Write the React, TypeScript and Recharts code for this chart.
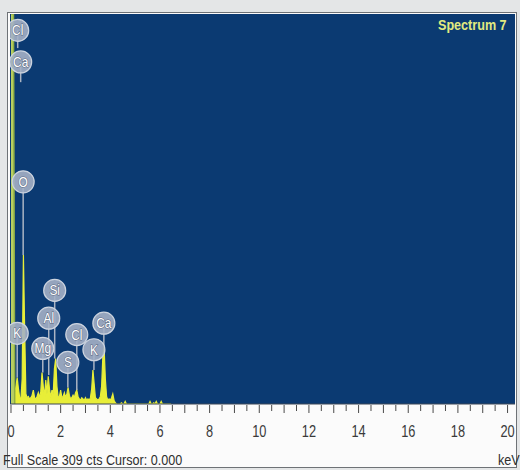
import React from 'react';
import { ComposedChart, Area, Scatter, XAxis, YAxis, CartesianGrid, ReferenceLine } from 'recharts';

// EDS spectrum, one value per 0.05 keV channel starting at 0 keV
const CHANNEL_KEV = 0.05;
const counts = [
  3, 3, 4, 8, 14, 21, 12, 5, 4, 20,
  118, 60, 8, 5, 6, 4, 5, 7, 11, 5,
  4, 6, 9, 5, 10, 25, 14, 6, 19, 8,
  22, 12, 5, 11, 8, 28, 36, 14, 5, 6,
  11, 5, 6, 9, 5, 8, 13, 7, 4, 5,
  7, 5, 9, 11, 6, 4, 3, 5, 4, 3,
  5, 3, 4, 3, 5, 12, 27, 16, 5, 4,
  3, 4, 6, 14, 38, 45, 20, 6, 3, 4,
  3, 5, 8, 3, 1, 0, 0, 0, 0, 1,
  0, 0, 2, 0, 0, 0, 0, 0, 0, 0,
  0, 0, 0, 0, 0, 0, 0, 0, 0, 0,
  0, 0, 2, 0, 0, 1, 0, 2, 0, 0,
  0, 2, 0, 0, 0, 0, 0, 0, 0, 0,
];
// zero-energy noise peak (off scale), first channels only
const noisePeak = [309, 309, 309, 0];

const elementNames = ['Cl', 'Ca', 'O', 'K', 'Mg', 'Al', 'Si', 'S', 'Cl', 'K', 'Ca'];
const elementKev = [0.27, 0.39, 0.49, 0.25, 1.28, 1.52, 1.76, 2.29, 2.65, 3.34, 3.74];
const tagCounts = [296, 271, 176, 56, 44, 68, 90, 33, 55, 43, 64];
const pinCounts = [282, 255, 118, 21, 25, 23, 36, 13, 11, 27, 45];

const kevTicks = [
  0, 0.5, 1, 1.5, 2, 2.5, 3, 3.5, 4, 4.5, 5, 5.5, 6, 6.5, 7, 7.5, 8, 8.5, 9, 9.5, 10,
  10.5, 11, 11.5, 12, 12.5, 13, 13.5, 14, 14.5, 15, 15.5, 16, 16.5, 17, 17.5, 18, 18.5, 19, 19.5, 20,
];
const labelledTicks = [0, 2, 4, 6, 8, 10, 12, 14, 16, 18, 20];

const FULL_SCALE = 309;

const spectrum = counts.map((c, i) => ({
  kev: +(i * CHANNEL_KEV).toFixed(2),
  counts: c,
  noise: i < noisePeak.length ? noisePeak[i] : undefined,
}));

const tags = elementNames.map((name, i) => ({
  name,
  kev: elementKev[i],
  counts: tagCounts[i],
  pin: pinCounts[i],
}));

const FONT = "'Liberation Sans', Arial, sans-serif";
const narrow: React.CSSProperties = { transform: 'scaleX(0.84)', transformOrigin: 'left top' };

const KevTick = (props: any) => {
  const { x, y, payload } = props;
  const v = payload.value;
  const major = Number.isInteger(v);
  return (
    <g>
      <line x1={x} x2={x} y1={y + 1} y2={y + (major ? 9 : 7)} stroke="#4a4a4a" strokeWidth={1} />
      {labelledTicks.includes(v) && (
        <text
          transform={`translate(${x},${y + 33}) scale(0.8,1)`}
          textAnchor="middle"
          fontSize={16}
          fontFamily={FONT}
          fill="#3a3a3a"
        >
          {v}
        </text>
      )}
    </g>
  );
};

const ElementTag = (props: any) => {
  const { cx, cy, payload } = props;
  if (cx == null || cy == null) return null;
  return (
    <g>
      <circle cx={cx} cy={cy} r={11} fill="#a4b0c5" fillOpacity={0.9} stroke="#cdd4df" strokeWidth={1.2} />
      <text
        transform={`translate(${cx},${cy + 5}) scale(0.85,1)`}
        textAnchor="middle"
        fontSize={14}
        fontFamily={FONT}
        fill="#ffffff"
        stroke="#5a667d"
        strokeWidth={1.1}
        style={{ paintOrder: 'stroke' }}
      >
        {payload.name}
      </text>
    </g>
  );
};

const App: React.FC = () => {
  return (
    <div style={{ position: 'absolute', left: 0, top: 0, width: 520, height: 470, background: '#e4e6e7', overflow: 'hidden' }}>
      <div
        style={{
          position: 'absolute',
          left: 7,
          top: 12,
          width: 510,
          height: 456,
          background: '#fbfbfb',
          border: '1px solid #6e7276',
          boxSizing: 'border-box',
        }}
      />
      <div style={{ position: 'absolute', left: 0, top: 0 }}>
        <ComposedChart width={520} height={470} data={spectrum} margin={{ top: 14, right: 5, bottom: 16, left: 10 }}>
          <CartesianGrid horizontal={false} vertical={false} fill="#0b3a72" />
          <XAxis
            dataKey="kev"
            type="number"
            domain={[-0.04, 20.3]}
            allowDataOverflow
            ticks={kevTicks}
            interval={0}
            tick={<KevTick />}
            tickLine={false}
            tickSize={0}
            tickMargin={0}
            axisLine={{ stroke: '#3c4656', strokeWidth: 1 }}
            height={50}
          />
          <YAxis
            type="number"
            domain={[0, FULL_SCALE]}
            allowDataOverflow
            width={0}
            tick={false}
            tickLine={false}
            axisLine={false}
          />
          <Area
            type="linear"
            dataKey="counts"
            stroke="#e8ee38"
            strokeWidth={1.2}
            fill="#e8ee38"
            fillOpacity={1}
            isAnimationActive={false}
            dot={false}
            activeDot={false}
          />
          <Area
            type="linear"
            dataKey="noise"
            stroke="#8fae44"
            strokeWidth={1.5}
            fill="#b7cf62"
            fillOpacity={1}
            isAnimationActive={false}
            dot={false}
            activeDot={false}
          />
          {tags.map((t, i) => (
            <ReferenceLine
              key={`pin-${i}`}
              segment={[
                { x: t.kev, y: t.pin },
                { x: t.kev, y: t.counts },
              ]}
              stroke="#aab4c3"
              strokeWidth={1.5}
            />
          ))}
          <Scatter data={tags} dataKey="counts" shape={<ElementTag />} isAnimationActive={false} />
        </ComposedChart>
      </div>
      <div
        style={{
          position: 'absolute',
          left: 438,
          top: 16,
          fontFamily: FONT,
          fontWeight: 'bold',
          fontSize: 15,
          color: '#e2ea80',
          whiteSpace: 'nowrap',
          ...narrow,
        }}
      >
        Spectrum 7
      </div>
      <div
        style={{
          position: 'absolute',
          left: 3,
          top: 451,
          fontFamily: FONT,
          fontSize: 15,
          color: '#2e2e2e',
          whiteSpace: 'nowrap',
          ...narrow,
        }}
      >
        Full Scale 309 cts Cursor: 0.000
      </div>
      <div
        style={{
          position: 'absolute',
          left: 498,
          top: 451,
          fontFamily: FONT,
          fontSize: 15,
          color: '#2e2e2e',
          whiteSpace: 'nowrap',
          ...narrow,
        }}
      >
        keV
      </div>
    </div>
  );
};

export default App;
